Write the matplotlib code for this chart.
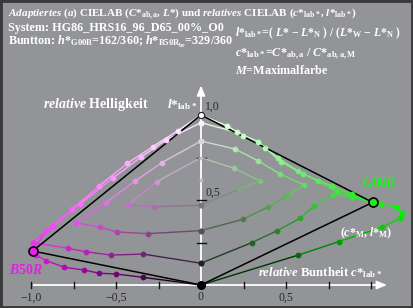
import numpy as np
import matplotlib
matplotlib.use("Agg")
import matplotlib.pyplot as plt
from matplotlib.patches import Rectangle

plt.rcParams['font.family'] = ['Liberation Serif', 'DejaVu Serif']
plt.rcParams['font.weight'] = 'bold'
plt.rcParams['mathtext.fontset'] = 'custom'
plt.rcParams['mathtext.rm'] = 'Liberation Serif:bold'
plt.rcParams['mathtext.it'] = 'Liberation Serif:italic:bold'
plt.rcParams['mathtext.bf'] = 'Liberation Serif:bold'

# ---------------- data (c*, l*) ----------------
# left hue B50R (negative c)
La_c = [0, -0.137, -0.284, -0.433, -0.60, -0.757, -0.91, -0.99]
La_l = [1.0, 0.907, 0.814, 0.716, 0.582, 0.447, 0.32, 0.20]
Lb_c = [0, -0.206, -0.355, -0.52, -0.712, -0.87, -0.99, -0.99]
Lb_l = [0.955, 0.853, 0.751, 0.628, 0.476, 0.347, 0.25, 0.20]
Lc_c = [0, -0.23, -0.39, -0.56, -0.735, -0.594, -0.496, -0.314, 0]
Lc_l = [0.847, 0.72, 0.61, 0.485, 0.366, 0.34, 0.312, 0.302, 0.32]
Ld_c = [0, -0.26, -0.43, -0.275, 0]
Ld_l = [0.749, 0.608, 0.47, 0.46, 0.47]
Le_c = [-0.99, -0.784, -0.678, -0.53, -0.34, 0]
Le_l = [0.25, 0.216, 0.196, 0.176, 0.182, 0.128]
Lf_c = [-0.99, -0.97, -0.91, -0.804, -0.686, -0.598, -0.502, -0.34, 0]
Lf_l = [0.20, 0.176, 0.143, 0.104, 0.088, 0.069, 0.065, 0.045, 0]
# right hue G00B (positive c)
Ra_c = [0, 0.155, 0.249, 0.376, 0.47, 0.60, 0.769, 0.886, 1.01]
Ra_l = [1.0, 0.935, 0.878, 0.808, 0.725, 0.653, 0.582, 0.533, 0.486]
Rb_c = [0, 0.21, 0.337, 0.455, 0.572, 0.686, 0.80, 1.01]
Rb_l = [0.955, 0.898, 0.843, 0.745, 0.67, 0.612, 0.55, 0.486]
Rc_c = [0, 0.2, 0.337, 0.465, 0.608, 0.508, 0.396, 0.245, 0]
Rc_l = [0.847, 0.80, 0.73, 0.653, 0.588, 0.523, 0.46, 0.386, 0.32]
Rd_c = [0, 0.196, 0.347, 0.225, 0]
Rd_l = [0.749, 0.686, 0.612, 0.563, 0.47]
Re_c = [0, 0.298, 0.449, 0.582, 0.665, 0.775, 0.886, 1.01]
Re_l = [0.128, 0.249, 0.32, 0.392, 0.465, 0.53, 0.52, 0.486]
Rf_c = [1.01, 1.06, 1.147, 1.18, 1.17, 1.063, 0.81, 0.572, 0]
Rf_l = [0.486, 0.475, 0.457, 0.425, 0.392, 0.339, 0.255, 0.176, 0]

M_left = (-0.99, 0.20)   # B50R
M_right = (1.01, 0.486)  # G00B

xtick_vals = [-1.0, -0.75, -0.5, -0.25, 0.25, 0.5, 0.75, 1.0]
xtick_labels = {-1.0: "\u22121,0", -0.5: "\u22120,5", 0.0: "0", 0.5: "0,5"}
ytick_vals = [0.25, 0.5, 0.75]

# ---------------- styles ----------------
BG = '#939498'
COL_L = np.array([0.93, 0.12, 0.93])
COL_R = np.array([0.12, 0.93, 0.12])


def pcolor(c, l, side):
    if side == 'L':
        M, lM = COL_L, M_left[1]
    else:
        M, lM = COL_R, M_right[1]
    a = abs(c)
    rgb = l + a * (M - lM)
    return np.clip(rgb, 0, 1)


W, H = 413, 308
fig = plt.figure(figsize=(W / 100, H / 100), dpi=100, facecolor=BG)
ax = fig.add_axes([0, 0, 1, 1])
ax.set_facecolor(BG)
x0, y0, s = 201.0, 285.0, 170.0
ax.set_xlim(-x0 / s, (W - x0) / s)
ax.set_ylim((y0 - H) / s, y0 / s)
ax.axis('off')

# axes (white) with arrows
ax.plot([-0.99, 1.05], [0, 0], color='white', lw=1.3, zorder=1.5, solid_capstyle='butt')
ax.plot([0, 0], [0, 1.16], color='white', lw=1.3, zorder=1.5, solid_capstyle='butt')
ax.annotate('', xy=(1.11, 0), xytext=(1.03, 0),
            arrowprops=dict(arrowstyle='-|>,head_length=0.6,head_width=0.25', color='white', lw=1.2), zorder=1.5)
ax.annotate('', xy=(0, 1.19), xytext=(0, 1.12),
            arrowprops=dict(arrowstyle='-|>,head_length=0.6,head_width=0.25', color='white', lw=1.2), zorder=1.5)
for v in xtick_vals:
    ax.plot([v, v], [-0.018, 0.018], color='#111111', lw=1.0, zorder=1.6)
for v in ytick_vals:
    ax.plot([-0.022, 0.032], [v, v], color='#111111', lw=1.0, zorder=1.6)
for v, t in xtick_labels.items():
    ax.text(v, -0.072, t, ha='center', va='center', fontsize=8.5, fontweight='normal', color='#2a2a2a')
ax.text(0.025, 1.047, "1,0", ha='left', va='center', fontsize=8.5, fontweight='normal', color='#2a2a2a')
ax.text(0.025, 0.54, "0,5", ha='left', va='center', fontsize=8.5, fontweight='normal', color='#2a2a2a')

# triangle lines
for M in (M_left, M_right):
    ax.plot([0, M[0]], [1.0, M[1]], color='black', lw=1.1, zorder=3)
    ax.plot([0, M[0]], [0.0, M[1]], color='black', lw=1.1, zorder=3)

curves = [(La_c, La_l, 'L'), (Lb_c, Lb_l, 'L'), (Lc_c, Lc_l, 'L'), (Ld_c, Ld_l, 'L'),
          (Le_c, Le_l, 'L'), (Lf_c, Lf_l, 'L'),
          (Ra_c, Ra_l, 'R'), (Rb_c, Rb_l, 'R'), (Rc_c, Rc_l, 'R'), (Rd_c, Rd_l, 'R'),
          (Re_c, Re_l, 'R'), (Rf_c, Rf_l, 'R')]
for cs, ls, side in curves:
    cols = [pcolor(c, l, side) for c, l in zip(cs, ls)]
    for i in range(len(cs) - 1):
        ax.plot(cs[i:i + 2], ls[i:i + 2], color=(cols[i] + cols[i + 1]) / 2, lw=1.0, zorder=2)
    for i, (c, l) in enumerate(zip(cs, ls)):
        small = (cs is Ld_c or cs is Rd_c) and i == 0
        ax.plot([c], [l], 'o', ms=2.0 if small else 3.8, mfc=cols[i], mec=cols[i], mew=0.3, zorder=4)

# special points
ax.plot([0], [1.0], 'o', ms=4.5, mfc='white', mec='#222222', mew=0.8, zorder=5)
ax.plot([0], [0.0], 'o', ms=5.5, mfc='black', mec='black', zorder=5)
ax.plot([0], [0.62], 'o', ms=1.8, mfc='#bbbbbb', mec='#bbbbbb', zorder=5)
ax.plot([M_left[0]], [M_left[1]], 'o', ms=6.5, mfc=COL_L, mec='black', mew=1.2, zorder=6)
ax.plot([M_right[0]], [M_right[1]], 'o', ms=6.5, mfc=COL_R, mec='black', mew=1.2, zorder=6)


def ftext(x, y, t, **kw):
    kw.setdefault('color', 'white')
    kw.setdefault('fontsize', 8.7)
    kw.setdefault('va', 'center')
    kw.setdefault('ha', 'left')
    fig.text(x / W, 1 - y / H, t, **kw)


ftext(8, 14, r"$\mathit{Adaptiertes\ (a)}$ CIELAB ($C{*}_{\rm ab,a}$, $L$*) und $\mathit{relatives}$ CIELAB ($c{*}_{\rm lab*}$, $l{*}_{\rm lab*}$)", fontsize=8.0)
ftext(8, 28, "System: HG86_HRS16_96_D65_00%_O0")
ftext(8, 42, r"Buntton: $h{*}_{\rm G00B}$=162/360; $h{*}_{\rm B50R_{br}}$=329/360")
ftext(235, 33, r"$l{*}_{\rm lab*}$=( $L$* $-$ $L{*}_{\rm N}$ ) / ($L{*}_{\rm W}$ $-$ $L{*}_{\rm N}$ )", fontsize=8.4)
ftext(235, 54, r"$c{*}_{\rm lab*}$=$C{*}_{\rm ab,a}$ / $C{*}_{\rm ab,a,M}$")
ftext(235, 70, r"$M$=Maximalfarbe")

ftext(43, 105, r"$\mathit{relative}$ Helligkeit", fontsize=10)
ftext(167, 105, r"$l{*}_{\rm lab*}$", fontsize=9.5)
ftext(258, 273, r"$\mathit{relative}$ Buntheit $c{*}_{\rm lab*}$", fontsize=9.2)
ftext(340, 233, r"($c{*}_{\rm M}$, $l{*}_{\rm M}$)", fontsize=8.5)
ftext(362, 183, r"$\mathit{G00B}$", fontsize=10, color='#22ee22')
ftext(9, 270, r"$\mathit{B50R}$", fontsize=10, color='#e020e0')

fig.patches.append(Rectangle((0, 0), 1, 1, transform=fig.transFigure, fill=False,
                             edgecolor='#3a3a3a', lw=3.5, zorder=10))

fig.savefig('out.png', dpi=100, facecolor=BG)
